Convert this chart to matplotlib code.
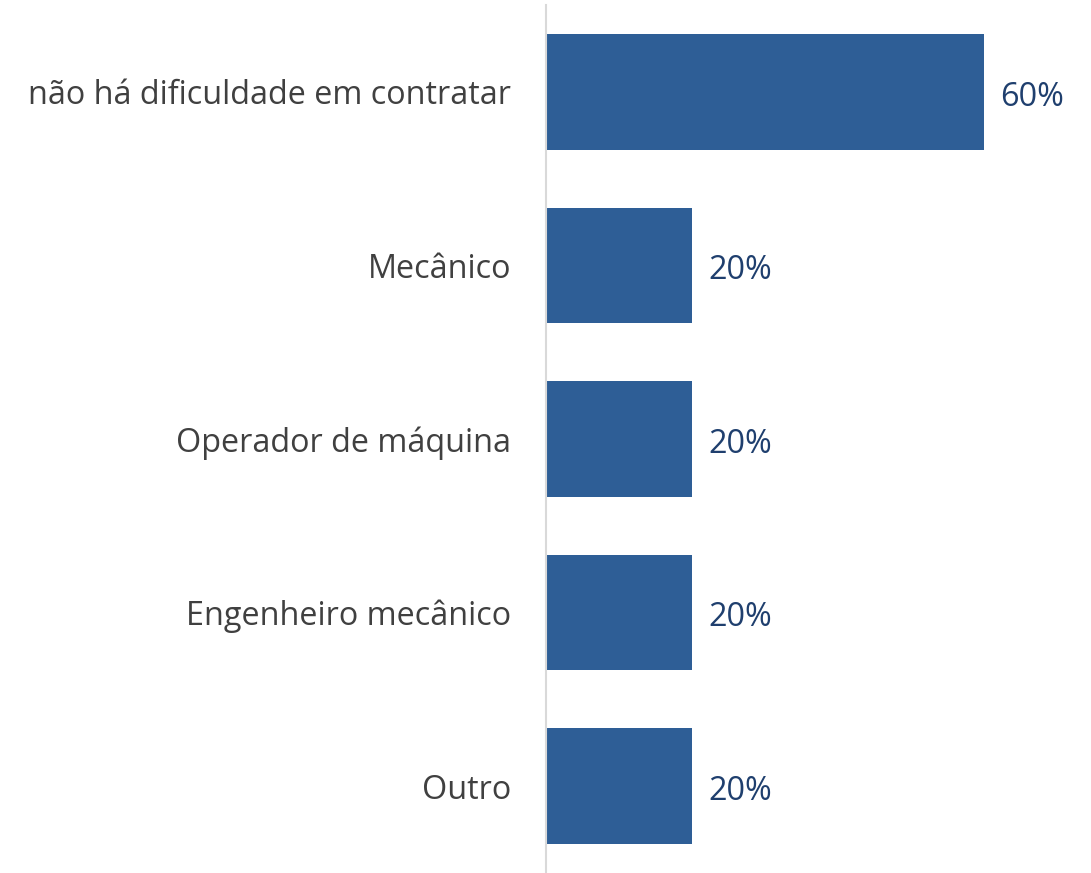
import matplotlib
matplotlib.use("Agg")
import matplotlib.pyplot as plt

categories = ["não há dificuldade em contratar", "Mecânico", "Operador de máquina",
              "Engenheiro mecânico", "Outro"]
values = [60, 20, 20, 20, 20]
value_labels = ["60%", "20%", "20%", "20%", "20%"]

plt.rcParams['font.family'] = ['Open Sans', 'DejaVu Sans']

fig = plt.figure(figsize=(10.91, 8.73), dpi=100)
ax = fig.add_axes([546/1091, 0, 1 - 546/1091, 868/873])

ypos = list(range(len(categories)))
ax.barh(ypos, values, height=0.665, color="#2E5E96")
ax.set_ylim(len(categories) - 0.5, -0.5)
ax.set_xlim(0, 74.7)

for y, v, lab in zip(ypos, values, value_labels):
    ax.text(v + 2.3, y + 0.03, lab, va="center", ha="left", fontsize=23.3, color="#1F3F6E")

ax.set_yticks(ypos)
ax.set_yticklabels(categories, fontsize=23.3, color="#404040")
ax.tick_params(axis="y", length=0, pad=25)
ax.set_xticks([])
for s in ["top", "right", "bottom"]:
    ax.spines[s].set_visible(False)
ax.spines["left"].set_color("#D9D9D9")
ax.spines["left"].set_linewidth(1.5)

fig.savefig("out.png", dpi=100, facecolor="white")
